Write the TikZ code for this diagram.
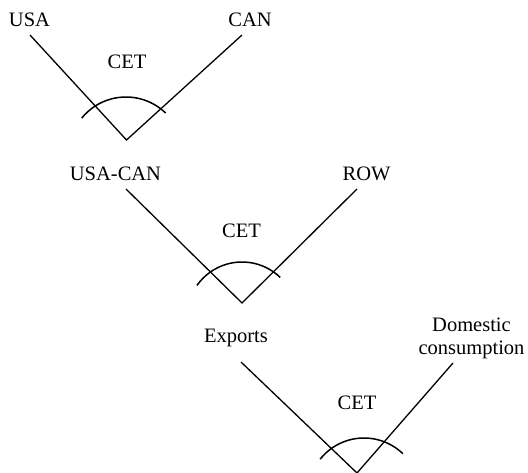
\documentclass[tikz,border=0pt]{standalone}
\usepackage{fontspec}
\setmainfont{Liberation Serif}
\begin{document}
\begin{tikzpicture}[x=1pt,y=1pt,
  lbl/.style={anchor=base,inner sep=0pt,font=\fontsize{20.5}{22.5}\selectfont},
  branch/.style={line width=1.3pt,line cap=butt},
  cetarc/.style={line width=1.5pt}]
\useasboundingbox (0,0) rectangle (528,472);
\clip (0,0) rectangle (528,472);

% top nest: USA and CAN
\node[lbl] (usa) at (29.5,445) {USA};
\node[lbl] (can) at (250,445) {CAN};
\node[lbl] (cet1) at (127,403) {CET};
\coordinate (usaEnd) at (30,437);
\coordinate (canEnd) at (242,437);
\coordinate (v1) at (126.5,332);
\draw[branch] (usaEnd) -- (v1) -- (canEnd);
\draw[cetarc] (126,318) ++(46:57) arc[start angle=46,end angle=141,radius=57];

% middle nest: USA-CAN and ROW
\node[lbl] (usacan) at (115.5,291) {USA-CAN};
\node[lbl] (row) at (366.5,291) {ROW};
\node[lbl] (cet2) at (241.5,234) {CET};
\coordinate (usacanEnd) at (126,283);
\coordinate (rowEnd) at (357,283);
\coordinate (v2) at (242,169);
\draw[branch] (usacanEnd) -- (v2) -- (rowEnd);
\draw[cetarc] (242,155) ++(46:55) arc[start angle=46,end angle=145,radius=55];

% bottom nest: exports and domestic consumption
\node[lbl] (exports) at (236,130) {Exports};
\node[anchor=center,inner sep=0pt,align=center,font=\fontsize{20.5}{22.5}\selectfont]
  (dom) at (471.5,133.5) {Domestic\\consumption};
\node[lbl] (cet3) at (357,63) {CET};
\coordinate (exportsEnd) at (241,110);
\coordinate (domEnd) at (453,109);
\coordinate (v3) at (357,-1);
\draw[branch] (exportsEnd) -- (v3) -- (domEnd);
\draw[cetarc] (364,-22) ++(46:56) arc[start angle=46,end angle=141.5,radius=56];
\end{tikzpicture}
\end{document}
